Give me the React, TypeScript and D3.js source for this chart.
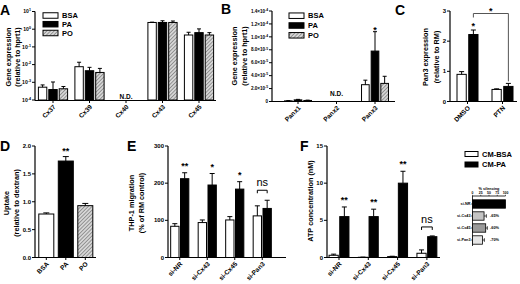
import React from "react";
import * as d3 from "d3";

const FONT = "'Liberation Sans', Arial, Helvetica, sans-serif";

// ---------- Panel A ----------
const aCategories = ["Cx37", "Cx39", "Cx40", "Cx43", "Cx45"];
const aBSA = [5.3e-4, 7.6e-3, null, 2.4, 0.47];
const aBSAErr = [1.8e-4, 6e-3, null, 0.1, 0.2];
const aPA = [3.9e-4, 4.5e-3, null, 2.4, 0.64];
const aPAErr = [6.5e-4, 2.5e-3, null, 0.6, 0.4];
const aPO = [4.3e-4, 3.6e-3, null, 2.4, 0.47];
const aPOErr = [1.5e-4, 2.5e-3, null, 0.5, 0.17];
const aTicks = [1e-4, 1e-3, 1e-2, 1e-1, 1, 10];
const aTickLabels = ["10^-4", "10^-3", "10^-2", "10^-1", "10^0", "10^1"];
const aNotDetected = ["Cx40"];
const seriesNames = ["BSA", "PA", "PO"];

// ---------- Panel B ----------
const bCategories = ["Panx1", "Panx2", "Panx3"];
const bBSA = [1.0e-6, null, 2.6e-5];
const bBSAErr = [0.4e-6, null, 0.7e-5];
const bPA = [2.5e-6, null, 7.8e-5];
const bPAErr = [0.8e-6, null, 3.0e-5];
const bPO = [1.6e-6, null, 2.8e-5];
const bPOErr = [0.5e-6, null, 1.1e-5];
const bTicks = [0, 2e-5, 4e-5, 6e-5, 8e-5, 1e-4, 1.2e-4, 1.4e-4];
const bTickLabels = ["0", "2.0×10^-5", "4.0×10^-5", "6.0×10^-5", "8.0×10^-5", "1.0×10^-4", "1.2×10^-4", "1.4×10^-4"];
const bNotDetected = ["Panx2"];
const bStarred = ["Panx3"];

// ---------- Panel C ----------
const cCategories = ["DMSO", "PTN"];
const cBSA = [0.9, 0.4];
const cBSAErr = [0.09, 0.02];
const cPA = [2.22, 0.5];
const cPAErr = [0.15, 0.1];
const cTicks = [0, 1, 2, 3];
const cTickLabels = ["0", "1", "2", "3"];

// ---------- Panel D ----------
const dCategories = ["BSA", "PA", "PO"];
const dValues = [0.78, 1.73, 0.93];
const dErr = [0.02, 0.08, 0.04];
const dTicks = [0, 0.5, 1, 1.5, 2];
const dTickLabels = ["0.0", "0.5", "1.0", "1.5", "2.0"];
const dSig = ["", "**", ""];

// ---------- Panel E ----------
const eCategories = ["si-NR", "si-Cx43", "si-Cx45", "si-Pan3"];
const eBSA = [84, 94, 101, 112];
const eBSAErr = [7, 7, 9, 27];
const ePA = [212, 195, 184, 132];
const ePAErr = [16, 31, 20, 22];
const eTicks = [0, 100, 200, 300];
const eTickLabels = ["0", "100", "200", "300"];
const eSig = ["**", "*", "*", "ns"];

// ---------- Panel F ----------
const fCategories = ["si-NR", "si-Cx43", "si-Cx45", "si-Pan3"];
const fBSA = [0.3, 0.03, 0.12, 0.57];
const fBSAErr = [0.15, 0.02, 0.05, 0.45];
const fPA = [5.5, 5.5, 10.0, 2.8];
const fPAErr = [1.3, 1.0, 1.6, 0.1];
const fTicks = [0, 5, 10, 15];
const fTickLabels = ["0", "5", "10", "15"];
const fSig = ["**", "**", "**", "ns"];
const fLegend = ["CM-BSA", "CM-PA"];

// ---------- Inset (% silencing) ----------
const insetCategories = ["si-NR", "si-Cx43", "si-Cx45", "si-Pan3"];
const insetValues = [100, 35, 40, 30];
const insetErr = [0, 7, 5, 6];
const insetLabels = ["", "-65%", "-60%", "-70%"];
const insetTicks = [0, 25, 50, 75, 100];

const HATCH = "url(#hatch)";

function SupText({ x, y, label, fs, anchor = "end" }: any) {
  const [base, exp] = String(label).split("^");
  return (
    <text x={x} y={y} fontSize={fs} textAnchor={anchor} fontWeight="bold">
      {base}
      {exp !== undefined && (
        <tspan dy={-fs * 0.42} fontSize={fs * 0.72}>
          {exp}
        </tspan>
      )}
    </text>
  );
}

function YAxis({ x, y, ticks, labels, top, bottom, fs }: any) {
  return (
    <g>
      <line x1={x} x2={x} y1={top} y2={bottom} stroke="#000" strokeWidth={1.2} />
      {ticks.map((t: number, i: number) => (
        <g key={i}>
          <line x1={x - 3} x2={x} y1={y(t)} y2={y(t)} stroke="#000" strokeWidth={1} />
          <SupText x={x - 4} y={y(t) + fs * 0.36} label={labels[i]} fs={fs} />
        </g>
      ))}
    </g>
  );
}

function XAxis({ x, cats, y, x0, x1, fs }: any) {
  return (
    <g>
      <line x1={x0} x2={x1} y1={y} y2={y} stroke="#000" strokeWidth={1.2} />
      {cats.map((c: string) => {
        const cx = x(c) + x.bandwidth() / 2;
        return (
          <g key={c}>
            <line x1={cx} x2={cx} y1={y} y2={y + 2.5} stroke="#000" strokeWidth={1} />
            <text transform={`translate(${cx + 3},${y + 7}) rotate(-45)`} textAnchor="end" fontSize={fs} fontWeight="bold">
              {c}
            </text>
          </g>
        );
      })}
    </g>
  );
}

function YTitle({ lines, xs, cy, fs }: any) {
  return (
    <g>
      {lines.map((l: string, i: number) => (
        <text key={i} transform={`translate(${xs[i]},${cy}) rotate(-90)`} textAnchor="middle" fontSize={fs} fontWeight="bold">
          {l}
        </text>
      ))}
    </g>
  );
}

function barGeom(x: any, n: number, gap: number) {
  const bw = (x.bandwidth() - gap * (n - 1)) / n;
  return (c: string, j: number) => {
    const x0 = x(c) + j * (bw + gap);
    return { x0, bw, cx: x0 + bw / 2 };
  };
}

function Bars({ cats, series, x, y, base, gap, cap }: any) {
  const geom = barGeom(x, series.length, gap);
  const out: any[] = [];
  cats.forEach((c: string, i: number) => {
    series.forEach((s: any, j: number) => {
      const v = s.values[i];
      if (v == null) return;
      const { x0, bw, cx } = geom(c, j);
      const yt = y(v);
      out.push(
        <rect key={`b${i}-${j}`} x={x0} y={yt} width={bw} height={Math.max(0, base - yt)} fill={s.fill} stroke="#000" strokeWidth={1} />
      );
      const e = s.errors[i];
      if (e) {
        const ye = y(v + e);
        out.push(
          <path key={`e${i}-${j}`} d={`M${cx},${yt}V${ye}M${cx - cap / 2},${ye}H${cx + cap / 2}`} stroke="#000" strokeWidth={1} fill="none" />
        );
      }
    });
  });
  return <g>{out}</g>;
}

function Legend({ x, ys, names, fills, fs, w = 15, h = 5.5 }: any) {
  return (
    <g>
      {names.map((n: string, i: number) => (
        <g key={n}>
          <rect x={x} y={ys[i] - h / 2} width={w} height={h} fill={fills[i]} stroke="#000" strokeWidth={1} />
          <text x={x + w + 4} y={ys[i] + fs * 0.36} fontSize={fs} fontWeight="bold">
            {n}
          </text>
        </g>
      ))}
    </g>
  );
}

function Star({ x, yTop, label, fs = 9, above = 8 }: any) {
  const cy = yTop - above;
  return (
    <text x={x} y={cy + fs * 0.57} fontSize={fs} fontWeight="bold" textAnchor="middle">
      {label}
    </text>
  );
}

function NsBracket({ xa, xb, yb, fs = 11 }: any) {
  return (
    <g>
      <path d={`M${xa},${yb + 3}V${yb}H${xb}V${yb + 3}`} stroke="#000" strokeWidth={1} fill="none" />
      <text x={(xa + xb) / 2} y={yb - 4.3} fontSize={fs} textAnchor="middle">
        ns
      </text>
    </g>
  );
}

export default function App() {
  const TFS = 7.3; // axis title font
  const KFS = 6; // tick font
  const XFS = 6.5; // x label font
  const LFS = 7.5; // legend font

  // ---- A ----
  const yA = d3.scaleLog().domain([1e-4, 10]).range([100, 11.5]);
  const xA = d3.scaleBand().domain(aCategories).range([34.75, 217.25]).paddingInner(0.2).paddingOuter(0.1);
  const seriesA = [
    { values: aBSA, errors: aBSAErr, fill: "#fff" },
    { values: aPA, errors: aPAErr, fill: "#000" },
    { values: aPO, errors: aPOErr, fill: HATCH },
  ];

  // ---- B ----
  const yB = d3.scaleLinear().domain([0, 1.4e-4]).range([101.5, 11]);
  const xB = d3.scaleBand().domain(bCategories).range([278.75, 394.25]).paddingInner(0.3).paddingOuter(0.15);
  const seriesB = [
    { values: bBSA, errors: bBSAErr, fill: "#fff" },
    { values: bPA, errors: bPAErr, fill: "#000" },
    { values: bPO, errors: bPOErr, fill: HATCH },
  ];
  const geomB = barGeom(xB, 3, 2);

  // ---- C ----
  const yC = d3.scaleLinear().domain([0, 3]).range([101.5, 11]);
  const xC = d3.scaleBand().domain(cCategories).range([450, 520]).paddingInner(0.4).paddingOuter(0.2);
  const seriesC = [
    { values: cBSA, errors: cBSAErr, fill: "#fff" },
    { values: cPA, errors: cPAErr, fill: "#000" },
  ];
  const geomC = barGeom(xC, 2, 2.5);

  // ---- D ----
  const yD = d3.scaleLinear().domain([0, 2]).range([257.5, 146]);
  const xD = d3.scaleBand().domain(dCategories).range([36.55, 95.05]).paddingInner(0.23).paddingOuter(0.115);
  const dFills = ["#fff", "#000", HATCH];

  // ---- E ----
  const yE = d3.scaleLinear().domain([0, 300]).range([257.5, 146]);
  const xE = d3.scaleBand().domain(eCategories).range([166, 276]).paddingInner(0.34).paddingOuter(0.17);
  const seriesE = [
    { values: eBSA, errors: eBSAErr, fill: "#fff" },
    { values: ePA, errors: ePAErr, fill: "#000" },
  ];
  const geomE = barGeom(xE, 2, 1.5);

  // ---- F ----
  const yF = d3.scaleLinear().domain([0, 15]).range([257.5, 146]);
  const xF = d3.scaleBand().domain(fCategories).range([324.35, 441.55]).paddingInner(0.32).paddingOuter(0.16);
  const seriesF = [
    { values: fBSA, errors: fBSAErr, fill: "#fff" },
    { values: fPA, errors: fPAErr, fill: "#000" },
  ];
  const geomF = barGeom(xF, 2, 1.5);

  // ---- Inset ----
  const xI = d3.scaleLinear().domain([0, 100]).range([472.5, 505.5]);
  const yI = d3.scaleBand().domain(insetCategories).range([198, 246]).paddingInner(0.3).paddingOuter(0.15);
  const insetFills = ["#000", "#c4c4c4", "#9a9a9a", "#e6e6e6"];

  return (
    <svg
      width={520}
      height={284}
      style={{ position: "absolute", left: 0, top: 0, display: "block" }}
      fontFamily={FONT}
    >
      <defs>
        <pattern id="hatch" width={2.6} height={2.6} patternUnits="userSpaceOnUse" patternTransform="rotate(45)">
          <rect width={2.6} height={2.6} fill="#d6d6d6" />
          <line x1={0} y1={0} x2={0} y2={2.6} stroke="#6a6a6a" strokeWidth={1.2} />
        </pattern>
      </defs>
      <rect width={520} height={284} fill="#fff" />

      {/* ================= A ================= */}
      <text x={0} y={15} fontSize={14} fontWeight="bold">A</text>
      <YTitle lines={["Gene expression", "(relative to hprt1)"]} xs={[10.5, 20]} cy={57} fs={TFS} />
      <Bars cats={aCategories} series={seriesA} x={xA} y={yA} base={100} gap={2} cap={4} />
      <YAxis x={35} y={yA} ticks={aTicks} labels={aTickLabels} top={11.5} bottom={100.5} fs={5.1} />
      <XAxis x={xA} cats={aCategories} y={100.5} x0={35} x1={216} fs={XFS} />
      {aNotDetected.map((c) => (
        <text key={c} x={xA(c)! + xA.bandwidth() / 2} y={98.5} fontSize={6.5} fontWeight="bold" textAnchor="middle">N.D.</text>
      ))}
      <Legend x={43} ys={[15.5, 24.2, 33]} names={seriesNames} fills={["#fff", "#000", HATCH]} fs={LFS} />

      {/* ================= B ================= */}
      <text x={221} y={14} fontSize={14} fontWeight="bold">B</text>
      <YTitle lines={["Gene expression", "(relative to hprt1)"]} xs={[236.5, 246.5]} cy={56} fs={TFS} />
      <Bars cats={bCategories} series={seriesB} x={xB} y={yB} base={101.5} gap={2} cap={4} />
      <YAxis x={272} y={yB} ticks={bTicks} labels={bTickLabels} top={11} bottom={101.5} fs={4.6} />
      <XAxis x={xB} cats={bCategories} y={101.5} x0={272} x1={395} fs={XFS} />
      {bNotDetected.map((c) => (
        <text key={c} x={xB(c)! + xB.bandwidth() / 2} y={95.5} fontSize={6.5} fontWeight="bold" textAnchor="middle">N.D.</text>
      ))}
      {bStarred.map((c) => {
        const i = bCategories.indexOf(c);
        const g = geomB(c, 1);
        return <Star key={c} x={g.cx} yTop={yB(bPA[i]! + bPAErr[i]!)} label="*" above={4} />;
      })}
      <Legend x={289} ys={[15.7, 25.5, 35.3]} names={seriesNames} fills={["#fff", "#000", HATCH]} fs={LFS} />

      {/* ================= C ================= */}
      <text x={395} y={15} fontSize={14} fontWeight="bold">C</text>
      <YTitle lines={["Pan3 expression", "(relative to RM)"]} xs={[427.5, 438.5]} cy={57} fs={TFS} />
      <Bars cats={cCategories} series={seriesC} x={xC} y={yC} base={101.5} gap={2.5} cap={5} />
      <YAxis x={450} y={yC} ticks={cTicks} labels={cTickLabels} top={11} bottom={101.5} fs={KFS} />
      <XAxis x={xC} cats={cCategories} y={101.5} x0={450} x1={517} fs={XFS} />
      {(() => {
        const g1 = geomC("DMSO", 1);
        const g2 = geomC("PTN", 1);
        const yTop1 = yC(cPA[0] + cPAErr[0]);
        const yTop2 = yC(cPA[1] + cPAErr[1]);
        const yb = 13.5;
        return (
          <g>
            <Star x={g1.cx} yTop={yTop1} label="*" above={6} />
            <path d={`M${g1.cx},${yb + 4}V${yb}H${g2.cx}V${yTop2 - 2}`} stroke="#555" strokeWidth={1} fill="none" />
            <Star x={(g1.cx + g2.cx) / 2} yTop={yb} label="*" above={4.5} />
          </g>
        );
      })()}

      {/* ================= D ================= */}
      <text x={0} y={151} fontSize={14} fontWeight="bold">D</text>
      <YTitle lines={["Uptake", "(relative to dextran)"]} xs={[8.5, 18.5]} cy={203} fs={TFS} />
      {dCategories.map((c, i) => {
        const x0 = xD(c)!;
        const bw = xD.bandwidth();
        const yt = yD(dValues[i]);
        const ye = yD(dValues[i] + dErr[i]);
        const cx = x0 + bw / 2;
        return (
          <g key={c}>
            <rect x={x0} y={yt} width={bw} height={257.5 - yt} fill={dFills[i]} stroke="#000" strokeWidth={1} />
            <path d={`M${cx},${yt}V${ye}M${cx - 3},${ye}H${cx + 3}`} stroke="#000" strokeWidth={1} fill="none" />
            {dSig[i] && <Star x={cx} yTop={ye} label={dSig[i]} above={8} />}
          </g>
        );
      })}
      <YAxis x={35} y={yD} ticks={dTicks} labels={dTickLabels} top={146} bottom={257.5} fs={KFS} />
      <XAxis x={xD} cats={dCategories} y={257.5} x0={35} x1={96} fs={XFS} />

      {/* ================= E ================= */}
      <text x={127} y={151} fontSize={14} fontWeight="bold">E</text>
      <YTitle lines={["THP-1 migration", "(% of RM control)"]} xs={[134, 144]} cy={203} fs={TFS} />
      <Bars cats={eCategories} series={seriesE} x={xE} y={yE} base={257.5} gap={1.5} cap={5} />
      <YAxis x={168} y={yE} ticks={eTicks} labels={eTickLabels} top={146} bottom={257.5} fs={KFS} />
      <XAxis x={xE} cats={eCategories} y={257.5} x0={168} x1={286} fs={XFS} />
      {eCategories.map((c, i) => {
        const ga = geomE(c, 0);
        const gb = geomE(c, 1);
        const ta = yE(eBSA[i] + eBSAErr[i]);
        const tb = yE(ePA[i] + ePAErr[i]);
        if (eSig[i] === "ns") return <NsBracket key={c} xa={ga.cx} xb={gb.cx} yb={Math.min(ta, tb) - 10} />;
        return <Star key={c} x={gb.cx} yTop={tb} label={eSig[i]} above={8.4} />;
      })}

      {/* ================= F ================= */}
      <text x={300} y={151} fontSize={14} fontWeight="bold">F</text>
      <YTitle lines={["ATP concentration (nM)"]} xs={[312.5]} cy={201} fs={TFS} />
      <Bars cats={fCategories} series={seriesF} x={xF} y={yF} base={257.5} gap={1.5} cap={5} />
      <YAxis x={327} y={yF} ticks={fTicks} labels={fTickLabels} top={146} bottom={257.5} fs={KFS} />
      <XAxis x={xF} cats={fCategories} y={257.5} x0={327} x1={440} fs={XFS} />
      {fCategories.map((c, i) => {
        const ga = geomF(c, 0);
        const gb = geomF(c, 1);
        const ta = yF(fBSA[i] + fBSAErr[i]);
        const tb = yF(fPA[i] + fPAErr[i]);
        if (fSig[i] === "ns") return <NsBracket key={c} xa={ga.cx} xb={gb.cx} yb={Math.min(ta, tb) - 9} />;
        return <Star key={c} x={gb.cx} yTop={tb} label={fSig[i]} above={9} />;
      })}
      <Legend x={465} ys={[154, 164.5]} names={fLegend} fills={["#fff", "#000"]} fs={LFS} w={13} h={5} />

      {/* ================= Inset ================= */}
      <g>
        <text x={(xI(0) + xI(100)) / 2} y={189.5} fontSize={3.8} fontWeight="bold" textAnchor="middle">% silencing</text>
        <line x1={xI(0)} x2={xI(100)} y1={196} y2={196} stroke="#000" strokeWidth={0.8} />
        {insetTicks.map((t) => (
          <g key={t}>
            <line x1={xI(t)} x2={xI(t)} y1={196} y2={194.8} stroke="#000" strokeWidth={0.6} />
            <text x={xI(t)} y={194.2} fontSize={3.4} fontWeight="bold" textAnchor="middle">{t}</text>
          </g>
        ))}
        <line x1={xI(0)} x2={xI(0)} y1={196} y2={246} stroke="#000" strokeWidth={0.8} />
        {insetCategories.map((c, i) => {
          const y0 = yI(c)!;
          const h = yI.bandwidth();
          const cy = y0 + h / 2;
          const xe = xI(insetValues[i] + insetErr[i]);
          return (
            <g key={c}>
              <line x1={xI(0) - 1.5} x2={xI(0)} y1={cy} y2={cy} stroke="#000" strokeWidth={0.6} />
              <text x={xI(0) - 2} y={cy + 1.4} fontSize={3.8} fontWeight="bold" textAnchor="end">{c}</text>
              <rect x={xI(0)} y={y0} width={xI(insetValues[i]) - xI(0)} height={h} fill={insetFills[i]} stroke="#000" strokeWidth={0.8} />
              {insetErr[i] > 0 && (
                <path d={`M${xI(insetValues[i])},${cy}H${xe}M${xe},${cy - 1.8}V${cy + 1.8}`} stroke="#000" strokeWidth={0.7} fill="none" />
              )}
              {insetLabels[i] && (
                <text x={490} y={cy + 1.4} fontSize={3.9} fontWeight="bold">{insetLabels[i]}</text>
              )}
            </g>
          );
        })}
      </g>
    </svg>
  );
}
